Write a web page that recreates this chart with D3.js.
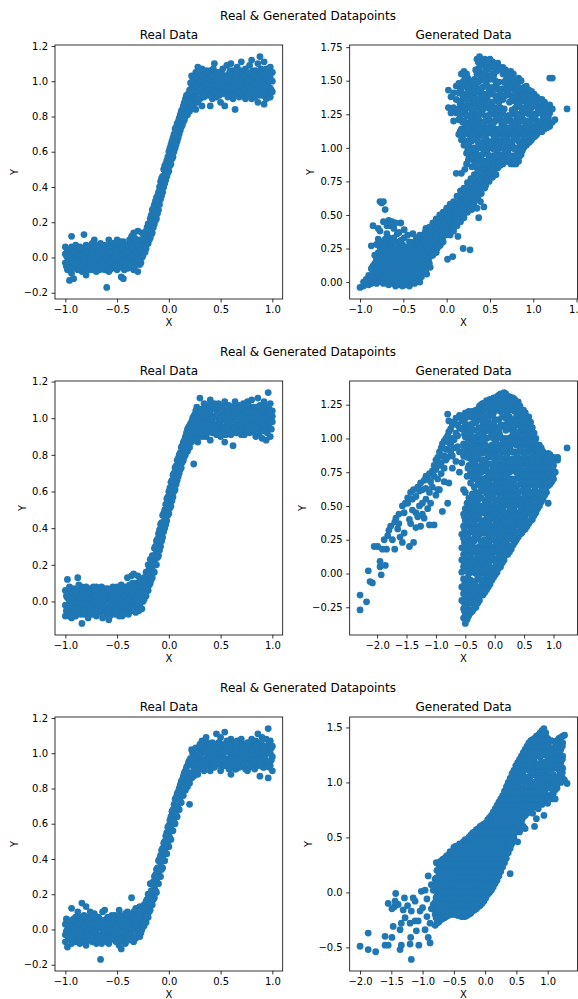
<!DOCTYPE html>
<html>
<head>
<meta charset="utf-8">
<script src="https://cdn.jsdelivr.net/npm/d3@7"></script>
<style>
  body { margin: 0; background: #fff; }
  text { font-family: "DejaVu Sans", sans-serif; }
</style>
</head>
<body>
<svg id="chart" width="578" height="999"></svg>
<script>
// each row: [x, y1, y2, ...]  (one x column at a time)

const real1 = [
  [-1.00,-0.03,0.02,0.06],[-0.98,-0.07,0.0,0.04],[-0.96,-0.13,-0.04,0.03],[-0.94,0.12,0.06,-0.01,-0.09],
  [-0.92,-0.12,0.03,-0.05],[-0.90,0.07,0.0,-0.03],[-0.88,0.04,-0.07,0.01],[-0.86,-0.02,0.06,-0.05],
  [-0.84,0.03,-0.08,0.0],[-0.82,0.13,0.05,-0.03],[-0.80,-0.1,0.02,-0.06,0.07],[-0.78,0.0,0.04,-0.04],
  [-0.76,0.06,-0.07,0.02],[-0.74,-0.03,0.03,0.08],[-0.72,0.1,-0.05,0.0],[-0.70,0.04,-0.02,-0.08],
  [-0.68,0.06,0.01,-0.04],[-0.66,-0.06,0.03,0.08],[-0.64,0.0,-0.03,0.05],[-0.62,0.07,-0.07,0.02],
  [-0.60,-0.17,-0.02,0.04,-0.05],[-0.58,0.1,0.0,-0.08],[-0.56,0.05,-0.04,0.02],[-0.54,-0.06,0.08,0.0],
  [-0.52,0.03,-0.03,0.06],[-0.50,0.1,-0.07,0.0],[-0.48,0.04,-0.02,0.07],[-0.46,-0.11,0.01,-0.05],
  [-0.44,0.09,-0.12,0.03],[-0.42,0.05,-0.03,0.0],[-0.40,0.07,-0.06,0.02],[-0.38,0.03,-0.02,0.1],
  [-0.36,0.12,-0.04,0.05],[-0.34,0.14,0.0,-0.07],[-0.32,0.08,0.03,-0.03],[-0.30,0.15,0.06,-0.08,0.0],
  [-0.28,0.1,0.02,-0.04],[-0.26,0.14,0.07,0.0],[-0.24,0.12,0.04,0.08],[-0.22,0.15,0.1,0.05],
  [-0.20,0.19,0.13,0.08],[-0.18,0.22,0.16,0.11],[-0.16,0.27,0.2,0.14],[-0.14,0.3,0.24,0.19],
  [-0.12,0.34,0.28,0.22],[-0.10,0.37,0.32,0.27],[-0.08,0.43,0.38,0.33],[-0.06,0.46,0.42,0.37],
  [-0.04,0.52,0.47,0.42],[-0.02,0.55,0.5,0.46],[0.00,0.6,0.54,0.49],[0.02,0.64,0.59,0.53],
  [0.04,0.68,0.63,0.57],[0.06,0.73,0.68,0.62],[0.08,0.76,0.71,0.66],[0.10,0.79,0.75,0.7],
  [0.12,0.83,0.78,0.74],[0.14,0.86,0.81,0.77],[0.16,0.9,0.84,0.8],[0.18,0.9,0.86,0.81],
  [0.20,0.95,0.88,0.83],[0.22,1.03,0.96,0.9,0.85],[0.24,0.99,0.93,0.87],[0.26,1.05,0.97,0.91,0.84],
  [0.28,1.08,1.0,0.94,0.88],[0.30,1.02,0.96,0.9],[0.32,1.07,0.99,0.93,0.86],[0.34,1.04,0.97,0.91],
  [0.36,1.0,0.95,1.06],[0.38,1.03,0.92,0.97],[0.40,1.06,0.99,0.94,0.86],[0.42,1.01,0.96,0.9],
  [0.44,1.1,1.04,0.98],[0.46,1.02,0.95,0.91],[0.48,1.05,0.99,0.93],[0.50,1.0,0.96,0.88],
  [0.52,1.07,1.02,0.94],[0.54,1.03,0.97,0.86],[0.56,1.09,1.0,0.93],[0.58,1.04,0.98,0.92],
  [0.60,1.1,1.01,0.95],[0.62,1.06,0.99,0.9],[0.64,1.03,0.96,0.84],[0.66,1.08,1.0,0.94],
  [0.68,1.05,0.97,0.91],[0.70,1.11,1.02,0.95],[0.72,1.04,0.98,0.92],[0.74,1.07,1.0,0.9],
  [0.76,1.03,0.96,0.93],[0.78,1.09,1.01,0.97],[0.80,1.12,1.05,0.99,0.9],[0.82,1.02,0.96,0.93],
  [0.84,1.06,1.0,0.94],[0.86,1.1,1.03,0.97,0.88],[0.88,1.14,1.04,0.98],[0.90,1.05,0.99,0.92],
  [0.92,1.11,1.01,0.95,0.87],[0.94,1.07,1.0,0.9],[0.96,1.04,0.97,0.93],[0.98,1.08,1.02,0.96,0.91],
  [1.00,1.05,1.0,0.94],
  [-0.99,0.01,-0.05],[-0.97,0.04,-0.02],[-0.95,-0.06,0.02],[-0.93,0.05,-0.02],[-0.91,-0.06,0.03],
  [-0.89,0.06,-0.03],[-0.87,0.02,-0.06],[-0.85,0.05,-0.03],[-0.83,-0.05,0.01],[-0.81,0.04,-0.02],
  [-0.79,-0.07,0.06],[-0.77,-0.02,0.03],[-0.75,0.05,-0.05],[-0.73,0.01,-0.07],[-0.71,0.07,-0.05],
  [-0.69,-0.01,0.03],[-0.67,0.05,-0.07],[-0.65,0.02,-0.05],[-0.63,-0.04,0.04],[-0.61,0.06,0.0],
  [-0.59,0.03,-0.04],[-0.57,-0.07,0.07],[-0.55,0.03,-0.02],[-0.53,0.0,0.08],[-0.51,-0.05,0.04],
  [-0.49,-0.06,0.01],[-0.47,0.05,0.09],[-0.45,-0.02,0.06],[-0.43,0.02,-0.07],[-0.41,0.04,-0.03],
  [-0.39,-0.06,0.07],[-0.37,0.01,0.08],[-0.35,-0.03,0.06],[-0.33,0.11,-0.05],[-0.31,0.03,0.1],
  [-0.29,0.07,-0.01],[-0.27,0.04,-0.03],[-0.25,0.01,0.1],[-0.23,0.03,0.12],
  [-0.21,0.08,0.17],[-0.19,0.1,0.16],[-0.17,0.13,0.24],[-0.15,0.17,0.28],[-0.13,0.21,0.32],
  [-0.11,0.25,0.35],[-0.09,0.3,0.4],[-0.07,0.35,0.45],[-0.05,0.4,0.5],[-0.03,0.44,0.53],
  [-0.01,0.48,0.57],[0.01,0.52,0.62],[0.03,0.56,0.66],[0.05,0.6,0.7],[0.07,0.64,0.74],
  [0.09,0.68,0.77],[0.11,0.72,0.81],[0.13,0.75,0.84],[0.15,0.78,0.88],[0.17,0.82,0.92],
  [0.19,0.84,0.93],[0.21,0.87,0.99],
  [0.23,0.93,1.0],[0.25,0.95,1.02],[0.27,0.9,0.98],[0.29,0.96,1.04],[0.31,0.94,1.0],[0.33,0.97,1.03],
  [0.35,0.93,1.01],[0.37,0.98,1.05],[0.39,0.95,1.01],[0.41,0.92,1.03],[0.43,0.97,1.07],[0.45,0.94,1.0],
  [0.47,0.98,1.05],[0.49,0.92,1.02],[0.51,0.97,1.04],[0.53,0.93,1.0],[0.55,0.96,1.03],[0.57,0.91,1.0],
  [0.59,0.96,1.06],[0.61,0.93,1.03],[0.63,0.92,1.0],[0.65,0.97,1.04],[0.67,0.94,1.01],[0.69,0.98,1.06],
  [0.71,0.93,1.0],[0.73,0.95,1.03],[0.75,0.99,1.05],[0.77,0.92,1.0],[0.79,0.94,1.04],[0.81,0.97,1.06],
  [0.83,0.91,0.99],[0.85,0.95,1.03],[0.87,0.92,1.01],[0.89,0.95,1.07],[0.91,0.98,1.03],[0.93,0.93,1.04],
  [0.95,0.96,1.02],[0.97,0.91,1.0],[0.99,0.95,1.05]
];

const gen1 = [
  [-1.0,-0.04],[-0.96,-0.03,0.0],[-0.93,-0.01,0.02],[-0.9,0.0,0.05,-0.02],[-0.87,0.03,0.1,0.27,-0.01],
  [-0.85,0.42,0.12,0.06,0.0],[-0.83,0.14,0.08,0.02,0.2],[-0.81,0.28,0.17,0.1,0.04,-0.01],
  [-0.79,0.4,0.32,0.22,0.13,0.06,0.01],[-0.77,0.6,0.38,0.26,0.18,0.1,0.03],[-0.75,0.59,0.3,0.15,0.08,0.0,0.22],
  [-0.73,0.6,0.45,0.24,0.19,0.12,0.05,-0.01],[-0.71,0.54,0.32,0.26,0.16,0.09,0.02],
  [-0.69,0.42,0.28,0.2,0.13,0.06,0.0,0.36],[-0.67,0.46,0.33,0.23,0.17,0.1,0.04,-0.02],
  [-0.65,0.42,0.26,0.2,0.14,0.08,0.02,0.3],[-0.63,0.45,0.27,0.22,0.16,0.11,0.05,-0.01],
  [-0.61,0.4,0.33,0.24,0.19,0.13,0.07,0.01],[-0.59,0.44,0.3,0.21,0.15,0.09,0.03,-0.03],
  [-0.57,0.36,0.25,0.18,0.12,0.06,0.0],[-0.55,0.37,0.28,0.22,0.16,0.1,0.04,-0.02],
  [-0.53,0.44,0.31,0.24,0.19,0.13,0.07,0.01],[-0.51,0.28,0.21,0.15,0.09,0.03,-0.03],
  [-0.49,0.39,0.33,0.25,0.18,0.12,0.06,0.0],[-0.47,0.26,0.2,0.14,0.08,0.02,-0.02],
  [-0.45,0.35,0.23,0.17,0.11,0.05,0.0],[-0.43,0.3,0.25,0.19,0.13,0.07,0.01,-0.03],
  [-0.41,0.22,0.16,0.1,0.04,0.0],[-0.39,0.36,0.27,0.2,0.14,0.08,0.02],[-0.37,0.3,0.24,0.18,0.12,0.06,-0.01],
  [-0.35,0.33,0.26,0.2,0.1,0.03],[-0.33,0.28,0.22,0.16,0.09,0.05],[-0.31,0.35,0.3,0.24,0.14,0.07,0.0],
  [-0.29,0.32,0.26,0.19,0.11,0.04],[-0.27,0.35,0.29,0.22,0.15,0.08],[-0.25,0.37,0.31,0.24,0.17,0.1],
  [-0.23,0.33,0.27,0.2,0.13,0.06],[-0.21,0.38,0.3,0.23,0.16],[-0.19,0.36,0.28,0.19,0.11],
  [-0.17,0.4,0.33,0.26,0.21],[-0.15,0.37,0.3,0.24],[-0.13,0.43,0.35,0.27],[-0.11,0.4,0.33,0.25],
  [-0.09,0.45,0.38,0.31],[-0.07,0.43,0.36,0.28],[-0.05,0.47,0.4,0.33],[-0.03,0.45,0.38],
  [-0.01,0.5,0.43,0.35],
  [0.01,0.48,0.41,0.17],[0.03,0.53,0.46,0.4],[0.05,0.51,0.44,0.38],[0.07,0.55,0.49,0.42,0.19],
  [0.09,0.53,0.47,0.41],[0.11,0.58,0.51,0.45,0.81],[0.13,0.56,0.5,0.34],[0.15,0.61,0.54,0.48],
  [0.17,0.59,0.52,0.81],[0.19,0.64,0.57,0.5,0.25],[0.21,0.62,0.55,0.84],[0.23,0.67,0.6,0.53,0.88],
  [0.25,0.65,0.58,0.91],[0.27,0.7,0.63,0.24],[0.29,0.68,0.61,0.54,0.86],[0.31,0.73,0.66,0.58],
  [0.33,0.71,0.64,0.86],[0.35,0.76,0.69,0.55],[0.37,0.74,0.67,0.48],[0.39,0.79,0.71,0.6],
  [0.41,0.77,0.7],[0.43,0.82,0.74,0.56],[0.45,0.8,0.72],[0.47,0.85,0.77],[0.49,0.83,0.75],
  [0.51,0.88,0.8],[0.53,0.86,0.78],[0.55,0.9,0.82],[0.57,0.87,0.8],[0.59,0.92,0.85],[0.61,0.89],
  [0.63,0.94,0.88],
  [-0.24,0.09,0.4],[-0.2,0.14,0.41],[-0.16,0.2,0.44],[-0.12,0.22,0.47],[-0.08,0.27,0.5],[-0.04,0.3,0.52],
  [0.0,0.36,0.55],[0.04,0.35,0.58],[0.08,0.38,0.6],[0.12,0.42,0.64],[0.16,0.45,0.68],[0.2,0.48,0.7],
  [0.24,0.52,0.74],[0.28,0.56,0.77],[0.32,0.6,0.8],[0.36,0.63,0.83],[0.4,0.66,0.86],[0.44,0.7,0.88],
  [0.02,1.3,1.43],[0.05,1.26,1.38],[0.08,1.2,1.3,1.41],[0.11,1.26,1.36,1.46],
  [0.14,1.1,1.21,1.29,1.41,1.48],[0.17,1.06,1.14,1.25,1.35,1.44,1.55],
  [0.20,1.02,1.1,1.2,1.31,1.4,1.5,1.57],[0.23,0.96,1.05,1.16,1.24,1.36,1.46,1.55],
  [0.26,0.94,1.01,1.1,1.19,1.3,1.4,1.49],[0.29,0.92,0.96,1.05,1.15,1.26,1.34,1.44],
  [0.32,0.9,1.0,1.11,1.2,1.29,1.4,1.51],[0.35,0.9,0.95,1.06,1.14,1.25,1.36,1.44,1.55,1.66],
  [0.38,0.9,1.0,1.09,1.2,1.3,1.41,1.5,1.6,1.68],[0.41,0.88,0.95,1.04,1.16,1.25,1.34,1.45,1.56,1.64],
  [0.44,0.9,1.01,1.1,1.19,1.3,1.4,1.5,1.61,1.66],[0.47,0.86,0.96,1.05,1.15,1.24,1.36,1.46,1.54,1.65],
  [0.50,0.9,1.0,1.11,1.2,1.29,1.4,1.51,1.6,1.66],[0.53,0.85,0.94,1.05,1.16,1.25,1.34,1.45,1.55,1.64],
  [0.56,0.9,1.01,1.1,1.2,1.3,1.39,1.5,1.59],[0.59,0.86,0.96,1.05,1.14,1.26,1.35,1.44,1.63],
  [0.62,0.87,1.0,1.1,1.21,1.3,1.4,1.6],[0.65,0.88,0.95,1.06,1.16,1.25,1.36,1.44,1.55,1.6],
  [0.68,0.9,1.01,1.09,1.2,1.39,1.5,1.58],[0.71,0.9,0.96,1.05,1.15,1.24,1.45,1.56],
  [0.74,0.88,1.0,1.1,1.2,1.39,1.49,1.57],[0.77,0.88,0.94,1.06,1.14,1.25,1.35,1.44,1.55],
  [0.80,0.88,1.0,1.1,1.2,1.3,1.41,1.5],[0.83,0.9,0.96,1.05,1.16,1.25,1.34,1.45,1.52],
  [0.86,0.95,1.01,1.1,1.2,1.3,1.4,1.5],[0.89,1.0,1.06,1.15,1.26,1.35,1.45],
  [0.92,1.02,1.1,1.2,1.31,1.4,1.46],[0.95,1.04,1.15,1.25,1.34,1.43],
  [0.98,1.06,1.1,1.21,1.3,1.42],[1.01,1.08,1.16,1.25,1.35,1.4],[1.04,1.1,1.2,1.31,1.38],
  [1.07,1.12,1.15,1.26,1.36],[1.10,1.12,1.2,1.3,1.36],[1.13,1.14,1.25,1.34],[1.16,1.15,1.21,1.3],
  [1.19,1.16,1.26,1.32,1.52],[1.22,1.19,1.29,1.52],[1.25,1.21],[1.39,1.29],
  [0.155,1.12,1.23,1.33,1.42],[0.215,1.03,1.12,1.18,1.28,1.38,1.47,1.53],
  [0.275,0.97,1.08,1.13,1.23,1.32,1.38,1.47],[0.335,0.92,0.98,1.08,1.17,1.22,1.33,1.42,1.48,1.58],
  [0.395,0.93,1.03,1.12,1.18,1.28,1.37,1.43,1.53,1.63],[0.455,0.88,0.98,1.07,1.13,1.23,1.32,1.38,1.48,1.57,1.63],
  [0.515,0.88,0.93,1.03,1.12,1.18,1.27,1.33,1.43,1.53,1.62],[0.575,0.88,0.98,1.07,1.13,1.22,1.28,1.37,1.48,1.57],
  [0.635,0.93,1.03,1.12,1.18,1.27,1.38,1.58],[0.695,0.92,0.98,1.07,1.13,1.22,1.42,1.48,1.53],
  [0.755,0.92,1.03,1.12,1.18,1.28,1.37,1.47,1.52],[0.815,0.92,0.98,1.07,1.13,1.23,1.32,1.38,1.47],
  [0.875,0.98,1.03,1.12,1.22,1.28,1.38,1.43],[0.935,1.07,1.13,1.18,1.27,1.38],
  [0.995,1.08,1.13,1.23,1.33,1.38],[1.055,1.13,1.18,1.28,1.33],[1.115,1.18,1.23,1.32],[1.175,1.18,1.23,1.28],
  [0.185,1.09,1.19,1.29,1.39,1.49],[0.245,0.99,1.04,1.14,1.24,1.34,1.44,1.52],
  [0.305,0.94,0.99,1.09,1.19,1.29,1.39,1.49],[0.365,0.92,1.04,1.14,1.24,1.34,1.49,1.59,1.64],
  [0.425,0.89,0.99,1.09,1.19,1.29,1.39,1.54,1.62],[0.485,0.88,0.94,1.04,1.14,1.24,1.34,1.44,1.59,1.64],
  [0.545,0.89,0.99,1.09,1.19,1.29,1.44,1.54,1.61],[0.605,0.89,0.94,1.04,1.14,1.24,1.34,1.49,1.59],
  [0.665,0.92,0.99,1.09,1.19,1.29,1.49,1.56],[0.725,0.91,0.94,1.04,1.14,1.24,1.34,1.44,1.54],
  [0.785,0.9,0.99,1.09,1.19,1.29,1.39,1.49],[0.845,0.94,1.04,1.14,1.24,1.34,1.44],
  [0.905,1.02,1.09,1.19,1.29,1.39,1.44],[0.965,1.05,1.09,1.19,1.29,1.39],
  [1.025,1.09,1.14,1.24,1.34],[1.085,1.13,1.19,1.29,1.34],[1.145,1.15,1.19,1.29]
];

const real2 = [
  [-1.00,0.06,-0.02,-0.08],[-0.98,0.12,0.02,-0.05],[-0.96,-0.08,0.08,0.0],[-0.94,0.04,-0.04,-0.09],
  [-0.92,0.07,-0.01,-0.06],[-0.90,0.02,-0.08,0.05],[-0.88,0.13,-0.03,0.01],[-0.86,0.06,-0.06,-0.01],
  [-0.84,-0.12,0.03,-0.04,0.08],[-0.82,0.0,-0.07,0.05],[-0.80,0.04,-0.03,0.08],[-0.78,-0.06,0.02,-0.09],
  [-0.76,0.07,0.0,-0.04],[-0.74,0.03,-0.07,0.06],[-0.72,-0.02,0.05,-0.05],[-0.70,0.08,0.01,-0.08],
  [-0.68,-0.03,0.04,0.0],[-0.66,0.06,-0.06,0.02],[-0.64,-0.09,0.03,-0.01],[-0.62,0.07,0.0,-0.05],
  [-0.60,0.02,-0.07,0.05],[-0.58,-0.1,0.04,-0.03],[-0.56,0.06,-0.01,-0.06],[-0.54,0.02,0.08,-0.04],
  [-0.52,-0.07,0.05,0.0],[-0.50,0.08,-0.03,0.03],[-0.48,-0.08,0.01,0.06],[-0.46,0.04,-0.05,0.09],
  [-0.44,-0.02,0.06,-0.07],[-0.42,0.08,0.0,-0.04],[-0.40,0.13,0.03,-0.06],[-0.38,0.05,-0.02,0.09],
  [-0.36,0.14,0.02,-0.05],[-0.34,0.15,0.07,-0.01],[-0.32,0.1,0.04,-0.06],[-0.30,0.14,0.02,-0.03],
  [-0.28,0.08,0.12,-0.02],[-0.26,0.1,0.04,-0.04],[-0.24,0.13,0.06,0.01],[-0.22,0.16,0.09,0.03],
  [-0.20,0.2,0.12,0.06],[-0.18,0.23,0.16,0.1],[-0.16,0.25,0.19,0.13],[-0.14,0.29,0.22,0.16],
  [-0.12,0.33,0.27,0.2],[-0.10,0.37,0.31,0.25],[-0.08,0.42,0.36,0.3],[-0.06,0.47,0.4,0.35],
  [-0.04,0.5,0.45,0.4],[-0.02,0.56,0.5,0.44],[0.00,0.6,0.54,0.48],[0.02,0.65,0.58,0.52],
  [0.04,0.69,0.63,0.57],[0.06,0.73,0.67,0.61],[0.08,0.77,0.71,0.66],[0.10,0.8,0.75,0.7],
  [0.12,0.84,0.79,0.73],[0.14,0.87,0.82,0.77],[0.16,0.9,0.85,0.8],[0.18,0.94,0.88,0.82],
  [0.20,0.96,0.9,0.84],[0.22,0.98,0.93,0.87],[0.24,1.01,0.95,0.89,0.75],[0.26,1.04,0.97,0.91],
  [0.28,0.99,0.94,0.87],[0.30,1.11,1.02,0.96,0.9],[0.32,1.05,0.98,0.92],[0.34,1.0,0.95,1.08],
  [0.36,1.03,0.97,0.9],[0.38,1.07,1.0,0.94],[0.40,1.1,1.02,0.96,0.88],[0.42,1.05,0.98,0.92],
  [0.44,1.01,0.95,1.08],[0.46,1.04,0.97,0.91],[0.48,1.08,1.0,0.94],[0.50,1.02,0.96,0.9],
  [0.52,1.06,0.99,0.93],[0.54,1.09,1.01,0.87],[0.56,1.04,0.97,0.92],[0.58,1.07,1.0,0.95],
  [0.60,1.02,0.96,0.91],[0.62,1.06,0.99,0.85],[0.64,1.09,1.02,0.94],[0.66,1.04,0.97,0.92],
  [0.68,1.07,1.0,0.95],[0.70,1.03,0.98,0.91],[0.72,1.08,1.01,0.94],[0.74,1.05,0.99,0.93],
  [0.76,1.09,1.02,0.96],[0.78,1.04,0.98,0.92],[0.80,1.1,1.01,0.95],[0.82,1.06,0.99,0.93],
  [0.84,1.03,0.97,0.9],[0.86,1.11,1.04,0.98],[0.88,1.07,1.0,0.94],[0.90,1.02,0.96,0.89],
  [0.92,1.09,1.03,0.97],[0.94,1.05,0.99,0.88],[0.96,1.14,1.02,0.95],[0.98,1.08,1.0,0.9],
  [1.00,1.04,0.98,1.01],
  [-0.99,0.03,-0.05],[-0.97,-0.02,0.05],[-0.95,0.01,-0.07],[-0.93,0.04,-0.02],[-0.91,-0.04,0.06],
  [-0.89,0.04,-0.06],[-0.87,-0.01,0.09],[-0.85,0.02,-0.07],[-0.83,0.06,-0.02],[-0.81,-0.05,0.02],
  [-0.79,0.05,-0.01],[-0.77,-0.03,0.04],[-0.75,0.02,-0.06],[-0.73,0.0,0.08],[-0.71,0.03,-0.07],
  [-0.69,-0.05,0.06],[-0.67,0.02,-0.02],[-0.65,-0.04,0.08],[-0.63,0.05,0.01],[-0.61,-0.03,0.03],
  [-0.59,0.07,-0.05],[-0.57,0.01,-0.08],[-0.55,0.04,-0.03],[-0.53,-0.01,0.06],[-0.51,0.02,-0.05],
  [-0.49,0.07,-0.03],[-0.47,-0.02,0.02],[-0.45,0.07,-0.08],[-0.43,0.03,-0.03],[-0.41,0.06,-0.01],
  [-0.39,0.01,-0.07],[-0.37,0.07,-0.03],[-0.35,0.1,0.0],[-0.33,0.05,-0.03],[-0.31,0.08,0.0],
  [-0.29,0.05,-0.05],[-0.27,0.03,0.09],[-0.25,0.0,0.08],[-0.23,0.04,0.11],
  [-0.21,0.07,0.15],[-0.19,0.09,0.18],[-0.17,0.12,0.21],[-0.15,0.16,0.25],[-0.13,0.2,0.3],
  [-0.11,0.24,0.34],[-0.09,0.28,0.39],[-0.07,0.33,0.43],[-0.05,0.38,0.48],[-0.03,0.42,0.53],
  [-0.01,0.47,0.57],[0.01,0.51,0.62],[0.03,0.55,0.66],[0.05,0.6,0.7],[0.07,0.64,0.74],
  [0.09,0.68,0.78],[0.11,0.72,0.81],[0.13,0.76,0.85],[0.15,0.79,0.88],[0.17,0.82,0.92],
  [0.19,0.85,0.95],[0.21,0.88,0.97],
  [0.23,0.91,1.0],[0.25,0.93,1.02],[0.27,0.96,1.06],[0.29,0.92,1.0],[0.31,0.95,1.04],[0.33,0.9,1.01],
  [0.35,0.94,1.05],[0.37,0.92,1.02],[0.39,0.97,1.04],[0.41,0.93,1.0],[0.43,0.96,1.06],[0.45,0.92,1.01],
  [0.47,0.95,1.03],[0.49,0.98,1.06],[0.51,0.93,1.0],[0.53,0.95,1.04],[0.55,0.91,1.01],[0.57,0.94,1.03],
  [0.59,0.97,1.05],[0.61,0.93,1.0],[0.63,0.95,1.04],[0.65,0.92,1.01],[0.67,0.97,1.05],[0.69,0.93,1.01],
  [0.71,0.96,1.06],[0.73,0.91,1.0],[0.75,0.94,1.04],[0.77,0.97,1.07],[0.79,0.93,1.0],[0.81,0.96,1.03],
  [0.83,0.92,1.0],[0.85,0.95,1.06],[0.87,0.91,1.02],[0.89,0.97,1.04],[0.91,0.93,1.0],[0.93,0.96,1.06],
  [0.95,0.92,1.01],[0.97,0.97,1.05],[0.99,0.94,1.02]
];

const gen2 = [
  [-2.29,-0.27,-0.16],[-2.18,-0.21],[-2.15,0.02],[-2.12,-0.06],[-2.08,-0.07],[-2.05,0.2],[-1.99,0.2],
  [-1.95,0.09,0.05],[-1.93,-0.01],[-1.91,0.18],[-1.88,0.25],[-1.86,0.06],[-1.84,0.18],[-1.82,0.28],
  [-1.8,0.32],[-1.77,0.35],[-1.74,0.25],[-1.7,0.18,0.38],[-1.68,0.41],[-1.65,0.33],[-1.63,0.37,0.44],
  [-1.61,0.27],[-1.57,0.23,0.5],[-1.54,0.3,0.45],[-1.52,0.52],[-1.48,0.52,0.56],[-1.45,0.2,0.4],
  [-1.43,0.37,0.6],[-1.4,0.47,0.55],[-1.38,0.23,0.62],[-1.34,0.57,0.45,0.34],[-1.31,0.42,0.64],
  [-1.28,0.61,0.5],[-1.26,0.35,0.67],[-1.23,0.52,0.62,0.44],[-1.2,0.41,0.69],[-1.17,0.63,0.72,0.55],
  [-1.14,0.7,0.48],[-1.11,0.36,0.74,0.6],[-1.09,0.52,0.68],[-1.06,0.76,0.64],[-1.03,0.36,0.72,0.8],
  [-1.0,0.77,0.58,0.84],[-0.97,0.7,0.86,0.62],[-0.94,0.62,0.8,0.9],[-0.91,0.82,0.74,0.93],
  [-0.89,0.46,0.87,0.96],[-0.86,0.87,0.78,0.98,0.68],[-0.83,0.92,1.0,0.84],[-0.8,0.52,0.92,1.18,1.02,0.86],
  [-0.78,1.13,0.67,0.97,1.05],[-0.75,0.96,1.07,0.9],[-0.72,0.78,0.87,1.0,1.1],[-0.69,0.99,1.12,0.93],
  [-0.66,1.04,1.15,0.83],[-0.63,1.02,1.1,0.94],[-0.6,1.08,1.17,0.9,0.75],
  [-0.56,-0.2,-0.1,0.01,0.1,0.19,0.29,0.82,1.07,1.13],
  [-0.53,-0.33,-0.26,-0.15,-0.04,0.05,0.14,0.26,0.35,0.44,0.62,0.87,0.96,1.17],
  [-0.50,-0.37,-0.3,-0.19,-0.1,0.02,0.1,0.21,0.3,0.39,0.48,0.6,0.91,1.01,1.1,1.19],
  [-0.47,-0.34,-0.24,-0.16,-0.06,0.04,0.16,0.24,0.36,0.45,0.52,0.72,0.86,0.95,1.06,1.16],
  [-0.44,-0.31,-0.21,-0.1,0.0,0.11,0.2,0.3,0.41,0.49,0.56,0.8,0.91,1.0,1.1,1.2],
  [-0.41,-0.29,-0.16,-0.05,0.06,0.14,0.25,0.34,0.45,0.54,0.67,0.75,0.85,0.96,1.04,1.16],
  [-0.38,-0.28,-0.2,-0.09,0.01,0.1,0.2,0.31,0.4,0.49,0.59,0.71,0.81,0.89,1.0,1.11,1.2],
  [-0.35,-0.26,-0.14,-0.06,0.05,0.16,0.24,0.36,0.44,0.55,0.64,0.76,0.85,0.95,1.06,1.15],
  [-0.32,-0.25,-0.19,-0.1,0.0,0.11,0.19,0.3,0.4,0.51,0.6,0.7,0.8,0.91,1.01,1.12,1.21],
  [-0.29,-0.22,-0.15,-0.04,0.06,0.14,0.26,0.35,0.45,0.54,0.66,0.74,0.86,0.95,1.16],
  [-0.26,-0.2,-0.1,0.01,0.09,0.2,0.29,0.4,0.5,0.6,0.69,0.79,0.9,1.0,1.2,1.24],
  [-0.23,-0.16,-0.05,0.04,0.15,0.24,0.34,0.45,0.56,0.64,0.75,0.84,0.94,1.06,1.15,1.25],
  [-0.20,-0.16,-0.09,0.0,0.11,0.21,0.3,0.39,0.5,0.61,0.7,0.8,0.89,1.01,1.1,1.2,1.26],
  [-0.17,-0.14,-0.05,0.06,0.14,0.25,0.36,0.45,0.54,0.65,0.76,0.84,0.96,1.05,1.16,1.25],
  [-0.14,-0.12,-0.01,0.1,0.19,0.3,0.41,0.5,0.59,0.71,0.8,0.91,1.0,1.22,1.28],
  [-0.11,-0.1,-0.04,0.05,0.16,0.24,0.35,0.46,0.55,0.64,0.75,0.86,0.94,1.06,1.15,1.26],
  [-0.08,-0.08,0.01,0.1,0.2,0.31,0.4,0.5,0.61,0.7,0.81,0.9,1.01,1.09,1.2,1.29],
  [-0.05,-0.05,0.04,0.15,0.26,0.35,0.44,0.56,0.65,0.74,0.86,0.95,1.04,1.24,1.29],
  [-0.02,-0.03,0.1,0.19,0.3,0.41,0.5,0.6,0.71,0.79,0.9,1.0,1.11,1.19,1.3],
  [0.01,-0.01,0.05,0.16,0.24,0.35,0.45,0.54,0.66,0.75,0.84,0.96,1.05,1.14,1.25],
  [0.04,0.01,0.11,0.2,0.29,0.4,0.51,0.6,0.69,0.8,0.9,1.0,1.21,1.31],
  [0.07,0.04,0.15,0.25,0.36,0.44,0.55,0.65,0.74,0.86,0.95,1.05,1.14,1.24,1.32],
  [0.10,0.05,0.1,0.21,0.3,0.39,0.5,0.61,0.7,0.81,0.9,1.01,1.1,1.2,1.29,1.33],
  [0.13,0.08,0.16,0.26,0.34,0.45,0.56,0.64,0.75,0.85,0.94,1.16,1.25,1.33],
  [0.16,0.1,0.19,0.3,0.41,0.5,0.6,0.71,0.8,0.9,1.0,1.1,1.21,1.3,1.34],
  [0.19,0.14,0.25,0.35,0.44,0.55,0.64,0.76,0.85,0.95,1.06,1.15,1.26,1.33],
  [0.22,0.14,0.2,0.31,0.4,0.51,0.6,0.69,0.81,0.9,1.0,1.11,1.2,1.3],
  [0.25,0.16,0.26,0.35,0.46,0.54,0.66,0.75,0.84,0.96,1.16,1.25,1.31],
  [0.28,0.18,0.29,0.4,0.5,0.61,0.7,0.79,0.9,1.01,1.1,1.21,1.3],
  [0.31,0.21,0.25,0.36,0.45,0.55,0.65,0.76,0.85,0.96,1.04,1.14,1.25,1.3],
  [0.34,0.23,0.3,0.41,0.5,0.6,0.7,0.81,0.9,1.0,1.1,1.2,1.29],
  [0.37,0.25,0.36,0.45,0.56,0.64,0.75,0.86,0.95,1.16,1.26],
  [0.40,0.27,0.31,0.4,0.51,0.6,0.71,0.8,0.9,1.0,1.1,1.19,1.27],
  [0.43,0.29,0.35,0.45,0.55,0.66,0.75,0.85,0.94,1.05,1.15,1.24],
  [0.46,0.3,0.4,0.5,0.61,0.7,0.8,0.91,1.0,1.1,1.21],
  [0.49,0.32,0.46,0.54,0.65,0.76,0.84,0.95,1.06,1.15,1.21],
  [0.52,0.33,0.41,0.5,0.6,0.71,0.81,0.9,1.0,1.09,1.19],
  [0.55,0.35,0.45,0.56,0.64,0.75,0.85,0.96,1.05,1.15],
  [0.58,0.37,0.5,0.6,0.7,0.8,0.9,1.01,1.1,1.16],
  [0.61,0.39,0.46,0.55,0.66,0.74,0.85,0.95,1.04,1.12],
  [0.64,0.4,0.5,0.6,0.71,0.8,0.91,1.0,1.08],
  [0.67,0.43,0.56,0.65,0.76,0.84,0.94,1.04],
  [0.70,0.45,0.51,0.6,0.7,0.8,0.9,1.0],
  [0.73,0.48,0.55,0.66,0.75,0.86,0.95],
  [0.76,0.5,0.6,0.69,0.8,0.9,0.95],
  [0.79,0.53,0.65,0.76,0.84,0.93],
  [0.82,0.55,0.61,0.7,0.8,0.9],
  [0.85,0.58,0.66,0.75,0.85],
  [0.88,0.6,0.71,0.8,0.88],
  [0.91,0.52,0.65,0.76,0.84,0.89],
  [0.94,0.66,0.7,0.8,0.88],
  [0.97,0.68,0.75,0.85],
  [1.00,0.7,0.8,0.86],
  [1.03,0.75,0.84],[1.07,0.84,0.86],[1.23,0.93],
  [-0.515,-0.28,-0.22,-0.12,-0.08,0.03,0.07,0.18,0.23,0.33,0.42,0.93,1.03,1.13],
  [-0.455,-0.32,-0.28,-0.17,-0.12,-0.03,0.07,0.13,0.22,0.28,0.38,0.43,0.52,0.78,0.88,0.97,1.08,1.17],
  [-0.395,-0.27,-0.22,-0.13,-0.08,0.03,0.08,0.17,0.23,0.32,0.38,0.47,0.53,0.73,0.78,0.88,0.93,1.08,1.17],
  [-0.335,-0.23,-0.17,-0.07,0.02,0.08,0.18,0.27,0.33,0.43,0.48,0.73,0.83,0.88,0.97,1.12,1.18],
  [-0.275,-0.18,-0.12,-0.03,0.03,0.12,0.18,0.28,0.32,0.42,0.48,0.57,0.72,0.78,0.88,0.92,1.03,1.08,1.18,1.22],
  [-0.215,-0.13,-0.07,0.02,0.08,0.17,0.23,0.32,0.37,0.48,0.68,0.77,0.83,0.93,0.98,1.08,1.13,1.22],
  [-0.155,-0.12,-0.08,0.03,0.07,0.17,0.22,0.33,0.38,0.48,0.52,0.63,0.68,0.78,0.82,1.08,1.12,1.23],
  [-0.095,-0.07,-0.02,0.08,0.13,0.23,0.28,0.38,0.42,0.53,0.58,0.68,0.72,0.88,1.12,1.18,1.27],
  [-0.035,-0.02,0.02,0.12,0.18,0.28,0.32,0.43,0.47,0.57,0.63,0.73,0.78,0.87,0.93,1.03,1.07,1.17,1.22,1.27],
  [0.025,0.03,0.08,0.17,0.22,0.32,0.38,0.47,0.52,0.62,0.68,0.77,0.82,0.93,0.97,1.08,1.23,1.28],
  [0.085,0.07,0.13,0.18,0.28,0.33,0.42,0.48,0.57,0.62,0.72,0.78,0.87,0.92,1.03,1.08,1.22,1.28],
  [0.145,0.12,0.17,0.23,0.32,0.37,0.47,0.53,0.62,0.67,0.77,0.83,0.92,0.98,1.22,1.28,1.32],
  [0.205,0.17,0.22,0.28,0.37,0.43,0.57,0.63,0.72,0.78,0.87,0.93,1.17,1.23,1.28],
  [0.265,0.2,0.27,0.32,0.42,0.48,0.57,0.63,0.68,0.78,0.82,0.92,0.98,1.07,1.13,1.22,1.27],
  [0.325,0.25,0.32,0.38,0.47,0.53,0.62,0.68,0.78,0.83,1.07,1.13,1.22,1.27],
  [0.385,0.3,0.37,0.43,0.52,0.58,0.82,0.88,0.97,1.03,1.12,1.18,1.23],
  [0.445,0.33,0.38,0.48,0.52,0.68,0.78,0.83,0.92,0.98,1.07,1.13,1.2],
  [0.505,0.37,0.43,0.53,0.57,0.67,0.73,0.82,0.88,0.97,1.03,1.12,1.17],
  [0.565,0.48,0.53,0.62,0.68,0.77,0.83,0.92,0.98,1.07,1.13],
  [0.625,0.43,0.53,0.58,0.68,0.72,0.82,0.88,0.97,1.03,1.08],
  [0.685,0.48,0.57,0.63,0.72,0.78,0.87,0.93,0.98],
  [0.745,0.53,0.58,0.67,0.72,0.83,0.88,0.93],
  [0.805,0.57,0.63,0.73,0.78,0.87,0.91],
  [0.865,0.62,0.68,0.78,0.83,0.87],
  [0.925,0.68,0.73,0.83,0.87],
  [0.985,0.72,0.78,0.83]
];

const real3 = [
  [-1.00,0.03,-0.03,-0.07],[-0.98,-0.1,0.0,0.05],[-0.96,0.04,-0.05,-0.01],[-0.94,0.12,-0.08,0.02],
  [-0.92,0.06,-0.03,0.0],[-0.90,-0.07,0.03,0.07],[-0.88,0.01,-0.05,0.1],[-0.86,0.05,-0.02,-0.08],
  [-0.84,0.15,0.02,-0.06],[-0.82,0.08,-0.01,-0.04],[-0.80,0.13,0.04,-0.09],[-0.78,0.0,-0.05,0.07],
  [-0.76,0.1,0.03,-0.02],[-0.74,-0.07,0.06,0.0],[-0.72,0.02,-0.04,0.09],[-0.70,0.05,-0.08,0.0],
  [-0.68,-0.03,0.07,0.01],[-0.66,-0.17,0.03,-0.06],[-0.64,0.1,0.0,-0.04],[-0.62,0.11,-0.02,0.05],
  [-0.60,-0.07,0.02,0.06],[-0.58,0.04,-0.03,-0.08],[-0.56,0.0,0.07,-0.05],[-0.54,0.05,-0.02,0.02],
  [-0.52,-0.06,0.03,0.08],[-0.50,0.06,-0.04,0.0],[-0.48,0.11,0.01,-0.09],[-0.46,-0.11,0.04,-0.03],
  [-0.44,0.07,-0.06,0.01],[-0.42,0.02,-0.08,0.09],[-0.40,0.1,-0.02,0.04],[-0.38,-0.06,0.05,0.0],
  [-0.36,0.18,0.08,-0.03],[-0.34,0.03,0.1,-0.07],[-0.32,0.12,0.0,-0.05],[-0.30,0.06,0.09,-0.02],
  [-0.28,0.13,0.03,-0.04],[-0.26,0.1,0.05,0.0],[-0.24,0.14,0.07,0.02],[-0.22,0.16,0.1,0.04],
  [-0.20,0.2,0.13,0.07],[-0.18,0.26,0.17,0.11],[-0.16,0.26,0.2,0.14],[-0.14,0.3,0.24,0.18],
  [-0.12,0.34,0.28,0.21],[-0.10,0.39,0.32,0.26],[-0.08,0.42,0.36,0.3],[-0.06,0.46,0.41,0.35],
  [-0.04,0.5,0.45,0.39],[-0.02,0.55,0.49,0.43],[0.00,0.59,0.53,0.47],[0.02,0.64,0.57,0.51],
  [0.04,0.68,0.62,0.56],[0.06,0.74,0.66,0.6],[0.08,0.77,0.7,0.64],[0.10,0.8,0.74,0.68],
  [0.12,0.84,0.78,0.72],[0.14,0.87,0.81,0.76],[0.16,0.9,0.84,0.79],[0.18,0.93,0.87,0.81],
  [0.20,0.96,0.89,0.83,0.71],[0.22,1.02,0.94,0.86],[0.24,0.98,0.92,0.87],[0.26,1.03,0.96,0.9],
  [0.28,1.0,0.94,0.88],[0.30,1.05,0.97,0.92],[0.32,1.07,1.0,0.94],[0.34,1.02,0.96,0.9],
  [0.36,1.09,1.03,0.97],[0.38,1.05,0.99,0.93],[0.40,1.01,0.95,0.9],[0.42,1.06,1.0,0.94],
  [0.44,1.03,0.97,0.92],[0.46,1.11,1.04,0.98],[0.48,1.06,1.0,0.95],[0.50,1.09,1.02,0.9],
  [0.52,1.04,0.98,0.93],[0.54,1.12,1.05,0.97],[0.56,1.07,1.01,0.95],[0.58,1.03,0.97,0.91],
  [0.60,1.08,1.0,0.88],[0.62,1.05,0.98,0.93],[0.64,1.02,0.96,0.91],[0.66,1.07,1.0,0.94],
  [0.68,1.04,0.98,0.92],[0.70,1.08,1.01,0.95],[0.72,1.05,0.99,0.93],[0.74,1.02,0.96,0.91],
  [0.76,1.06,0.99,0.9],[0.78,1.03,0.97,0.92],[0.80,1.08,1.01,0.95],[0.82,1.04,0.98,0.93],
  [0.84,1.07,1.0,0.94],[0.86,1.11,1.03,0.97],[0.88,1.05,0.99,0.87],[0.90,1.09,1.02,0.96],
  [0.92,1.04,0.98,0.92],[0.94,1.08,1.0,0.94],[0.96,1.14,1.03,0.86],[0.98,1.07,1.0,0.93],
  [1.00,1.04,0.98,0.9],
  [-0.99,-0.01,0.06],[-0.97,0.02,-0.05],[-0.95,-0.03,0.05],[-0.93,0.03,-0.06],[-0.91,0.01,-0.04],
  [-0.89,0.05,-0.02],[-0.87,-0.04,0.03],[-0.85,0.07,0.0],[-0.83,-0.03,0.05],[-0.81,0.02,-0.07],
  [-0.79,0.06,-0.02],[-0.77,-0.06,0.04],[-0.75,0.06,-0.03],[-0.73,0.03,-0.05],[-0.71,-0.02,0.07],
  [-0.69,0.04,-0.05],[-0.67,0.06,-0.03],[-0.65,0.01,-0.08],[-0.63,0.05,-0.02],[-0.61,-0.05,0.02],
  [-0.59,0.07,0.0],[-0.57,0.03,-0.06],[-0.55,-0.01,0.08],[-0.53,0.05,-0.04],[-0.51,0.02,-0.07],
  [-0.49,0.05,-0.02],[-0.47,-0.06,0.08],[-0.45,0.01,-0.05],[-0.43,0.04,-0.02],[-0.41,-0.04,0.06],
  [-0.39,0.02,0.08],[-0.37,-0.02,0.04],[-0.35,0.06,-0.05],[-0.33,0.02,0.07],[-0.31,-0.04,0.03],
  [-0.29,0.09,0.0],[-0.27,0.06,-0.02],[-0.25,0.03,0.11],[-0.23,0.05,0.12],
  [-0.21,0.08,0.17],[-0.19,0.1,0.19],[-0.17,0.14,0.22],[-0.15,0.17,0.27],[-0.13,0.22,0.31],
  [-0.11,0.26,0.35],[-0.09,0.3,0.4],[-0.07,0.34,0.45],[-0.05,0.39,0.49],[-0.03,0.43,0.53],
  [-0.01,0.48,0.58],[0.01,0.52,0.62],[0.03,0.56,0.67],[0.05,0.61,0.71],[0.07,0.65,0.75],
  [0.09,0.69,0.78],[0.11,0.73,0.82],[0.13,0.76,0.85],[0.15,0.8,0.89],[0.17,0.83,0.92],
  [0.19,0.85,0.95],[0.21,0.88,0.97],
  [0.23,0.93,1.0],[0.25,0.9,0.98],[0.27,0.94,1.02],[0.29,0.91,0.99],[0.31,0.95,1.03],[0.33,0.92,1.04],
  [0.35,0.96,1.01],[0.37,0.93,1.06],[0.39,0.97,1.02],[0.41,0.92,1.0],[0.43,0.95,1.05],[0.45,0.93,1.01],
  [0.47,0.97,1.03],[0.49,0.94,1.06],[0.51,0.92,1.0],[0.53,0.96,1.04],[0.55,0.93,1.01],[0.57,0.95,1.06],
  [0.59,0.93,1.03],[0.61,0.96,1.01],[0.63,0.94,1.05],[0.65,0.91,1.02],[0.67,0.96,1.04],[0.69,0.93,1.0],
  [0.71,0.97,1.05],[0.73,0.94,1.02],[0.75,0.92,1.0],[0.77,0.96,1.04],[0.79,0.93,1.06],[0.81,0.95,1.02],
  [0.83,0.91,1.0],[0.85,0.96,1.04],[0.87,0.93,1.01],[0.89,0.95,1.06],[0.91,0.92,1.02],[0.93,0.97,1.04],
  [0.95,0.94,1.0],[0.97,0.92,1.06],[0.99,0.96,1.03]
];

const gen3 = [
  [-2.0,-0.49],[-1.87,-0.37,-0.52],[-1.75,-0.54],[-1.6,-0.4,-0.48],[-1.55,-0.48,-0.1],[-1.49,-0.41,-0.15],
  [-1.47,-0.31],[-1.45,-0.13],[-1.44,-0.08],[-1.43,-0.01],[-1.39,-0.11],[-1.36,-0.34,-0.52],
  [-1.34,-0.28,-0.48],[-1.31,-0.16],[-1.29,-0.05],[-1.28,-0.23],[-1.24,-0.12],[-1.2,-0.47,-0.28],
  [-1.19,-0.41],[-1.18,-0.61,-0.17],[-1.15,-0.05],[-1.12,-0.08,-0.26],[-1.1,-0.35],[-1.07,-0.26],
  [-1.06,-0.48],[-1.04,-0.17],[-1.02,0.01],[-1.0,-0.14],[-0.96,-0.34,0.02],[-0.93,-0.22,-0.06],
  [-0.91,-0.41,0.15],[-0.88,-0.46,-0.28],[-0.86,0.07,-0.15],[-0.83,-0.11,0.02],[-0.78,0.27],[-0.72,0.28],
  [-0.80,-0.3,-0.2,-0.09,0.05,0.12],
  [-0.77,-0.28,-0.14,-0.03,0.1,0.2],
  [-0.74,-0.27,-0.19,-0.07,0.03,0.15,0.25],
  [-0.71,-0.25,-0.13,-0.01,0.11,0.22,0.28],
  [-0.68,-0.24,-0.2,-0.08,0.05,0.16,0.3],
  [-0.65,-0.23,-0.15,-0.02,0.09,0.22,0.31],
  [-0.62,-0.22,-0.09,0.04,0.17,0.27,0.33],
  [-0.59,-0.21,-0.13,-0.03,0.1,0.23,0.34],
  [-0.56,-0.2,-0.07,0.05,0.15,0.28,0.37],
  [-0.53,-0.2,-0.14,-0.01,0.11,0.21,0.35],
  [-0.50,-0.2,-0.08,0.03,0.16,0.29,0.41],
  [-0.47,-0.2,-0.13,-0.02,0.1,0.23,0.34,0.42],
  [-0.44,-0.21,-0.08,0.05,0.17,0.27,0.4],
  [-0.41,-0.21,-0.14,-0.03,0.11,0.22,0.35,0.44],
  [-0.38,-0.22,-0.09,0.04,0.15,0.28,0.41],
  [-0.35,-0.22,-0.13,-0.01,0.09,0.23,0.34,0.46],
  [-0.32,-0.22,-0.08,0.05,0.17,0.27,0.4,0.48],
  [-0.29,-0.21,-0.14,-0.02,0.1,0.21,0.35,0.47],
  [-0.26,-0.2,-0.07,0.03,0.16,0.29,0.39,0.5],
  [-0.23,-0.19,-0.13,-0.01,0.11,0.22,0.33,0.46,0.52],
  [-0.20,-0.17,-0.08,0.05,0.15,0.28,0.41,0.54],
  [-0.17,-0.16,-0.02,0.1,0.23,0.35,0.46,0.55],
  [-0.14,-0.15,-0.07,0.04,0.17,0.29,0.4,0.52,0.57],
  [-0.11,-0.13,-0.01,0.1,0.21,0.34,0.47,0.58],
  [-0.08,-0.12,-0.08,0.05,0.16,0.27,0.4,0.51,0.6],
  [-0.05,-0.1,-0.02,0.11,0.22,0.35,0.45,0.57,0.61],
  [-0.02,-0.08,0.03,0.15,0.29,0.4,0.53,0.62],
  [0.01,-0.05,0.1,0.21,0.33,0.47,0.58,0.63],
  [0.04,-0.02,0.04,0.17,0.28,0.41,0.52,0.66],
  [0.07,0.0,0.1,0.23,0.34,0.45,0.57,0.68],
  [0.10,0.02,0.15,0.28,0.39,0.53,0.64,0.7],
  [0.13,0.05,0.11,0.22,0.35,0.46,0.58,0.69,0.73],
  [0.16,0.08,0.17,0.29,0.4,0.52,0.65,0.76],
  [0.19,0.11,0.22,0.33,0.47,0.58,0.7,0.79],
  [0.22,0.15,0.28,0.41,0.51,0.64,0.75,0.82],
  [0.25,0.19,0.23,0.34,0.46,0.57,0.7,0.82,0.85],
  [0.28,0.23,0.29,0.39,0.52,0.65,0.77,0.88],
  [0.31,0.27,0.35,0.46,0.59,0.7,0.81,0.92],
  [0.34,0.31,0.4,0.53,0.63,0.76,0.89,0.96],
  [0.37,0.36,0.47,0.58,0.71,0.82,0.93,1.0],
  [0.40,0.17,0.4,0.51,0.65,0.77,0.88,1.0,1.04],
  [0.43,0.45,0.58,0.7,0.83,0.94,1.08],
  [0.46,0.5,0.53,0.64,0.77,0.88,1.01,1.11],
  [0.49,0.55,0.59,0.71,0.81,0.95,1.06,1.15],
  [0.52,0.46,0.56,0.65,0.75,0.89,1.0,1.13,1.18],
  [0.55,0.55,0.6,0.7,0.83,0.94,1.05,1.18,1.21],
  [0.58,0.58,0.64,0.77,0.88,1.01,1.12,1.24],
  [0.61,0.6,0.69,0.82,0.95,1.06,1.17,1.27],
  [0.64,0.58,0.7,0.76,0.87,1.0,1.12,1.23,1.3],
  [0.67,0.72,0.82,0.94,1.05,1.19,1.29,1.33],
  [0.70,0.73,0.77,0.89,1.0,1.11,1.25,1.36],
  [0.73,0.75,0.83,0.95,1.06,1.17,1.3,1.38],
  [0.76,0.72,0.78,0.88,1.0,1.12,1.23,1.36,1.39],
  [0.79,0.6,0.78,0.82,0.94,1.07,1.18,1.3,1.4],
  [0.82,0.67,0.79,0.89,1.01,1.13,1.24,1.35,1.42],
  [0.85,0.76,0.8,0.93,1.06,1.17,1.29,1.43],
  [0.88,0.81,0.88,1.0,1.12,1.23,1.36,1.45],
  [0.91,0.8,0.83,0.95,1.06,1.18,1.3,1.42,1.47],
  [0.94,0.7,0.84,0.89,1.0,1.12,1.25,1.36,1.49],
  [0.97,0.85,0.94,1.07,1.19,1.3,1.45],
  [1.00,0.81,0.87,1.0,1.11,1.24,1.4],
  [1.03,0.88,0.95,1.06,1.18,1.3,1.37],
  [1.06,0.85,0.89,1.01,1.12,1.24,1.38],
  [1.09,0.9,0.94,1.07,1.19,1.31],
  [1.12,0.85,0.93,1.0,1.13,1.24,1.36],
  [1.15,0.95,1.05,1.18,1.3,1.38],
  [1.18,1.0,1.12,1.23,1.36,1.4],
  [1.21,1.0,1.06,1.18,1.3,1.41],
  [1.24,1.04,1.13,1.24,1.36,1.42],
  [1.27,1.02,1.43],[1.31,0.99],
  [-0.785,-0.23,-0.17,-0.11,-0.05,0.01,0.07,0.13],
  [-0.725,-0.23,-0.17,-0.11,-0.05,0.01,0.07,0.13,0.19,0.25],
  [-0.665,-0.17,-0.11,-0.05,0.01,0.07,0.13,0.19,0.25],
  [-0.605,-0.17,-0.11,-0.05,0.01,0.07,0.13,0.19,0.25,0.31],
  [-0.545,-0.17,-0.11,-0.05,0.01,0.07,0.13,0.19,0.25,0.31],
  [-0.485,-0.17,-0.11,-0.05,0.01,0.07,0.13,0.19,0.25,0.31,0.37],
  [-0.425,-0.17,-0.11,-0.05,0.01,0.07,0.13,0.19,0.25,0.31,0.37],
  [-0.365,-0.17,-0.11,-0.05,0.01,0.07,0.13,0.19,0.25,0.31,0.37,0.43],
  [-0.305,-0.17,-0.11,-0.05,0.01,0.07,0.13,0.19,0.25,0.31,0.37,0.43],
  [-0.245,-0.17,-0.11,-0.05,0.01,0.07,0.13,0.19,0.25,0.31,0.37,0.43,0.49],
  [-0.185,-0.11,-0.05,0.01,0.07,0.13,0.19,0.25,0.31,0.37,0.43,0.49],
  [-0.125,-0.11,-0.05,0.01,0.07,0.13,0.19,0.25,0.31,0.37,0.43,0.49,0.55],
  [-0.065,-0.05,0.01,0.07,0.13,0.19,0.25,0.31,0.37,0.43,0.49,0.55],
  [-0.005,-0.05,0.01,0.07,0.13,0.19,0.25,0.31,0.37,0.43,0.49,0.55,0.61],
  [0.055,0.01,0.07,0.13,0.19,0.25,0.31,0.37,0.43,0.49,0.55,0.61],
  [0.115,0.07,0.13,0.19,0.25,0.31,0.37,0.43,0.49,0.55,0.61,0.67],
  [0.175,0.13,0.19,0.25,0.31,0.37,0.43,0.49,0.55,0.61,0.67,0.73],
  [0.235,0.19,0.25,0.31,0.37,0.43,0.49,0.55,0.61,0.67,0.73,0.79],
  [0.295,0.31,0.37,0.43,0.49,0.55,0.61,0.67,0.73,0.79,0.85],
  [0.355,0.37,0.43,0.49,0.55,0.61,0.67,0.73,0.79,0.85,0.91,0.97],
  [0.415,0.43,0.49,0.55,0.61,0.67,0.73,0.79,0.85,0.91,0.97,1.03],
  [0.475,0.55,0.61,0.67,0.73,0.79,0.85,0.91,0.97,1.03,1.09],
  [0.535,0.61,0.67,0.73,0.79,0.85,0.91,0.97,1.03,1.09,1.15],
  [0.595,0.67,0.73,0.79,0.91,1.03,1.09,1.15,1.21],
  [0.655,0.73,0.79,0.85,0.91,1.03,1.15,1.21,1.27],
  [0.715,0.79,0.85,0.91,0.97,1.03,1.15,1.21,1.27,1.33],
  [0.775,0.79,0.85,0.91,1.09,1.21,1.27,1.33,1.39],
  [0.835,0.85,0.91,0.97,1.03,1.09,1.15,1.27,1.33,1.39],
  [0.895,0.85,0.91,0.97,1.03,1.09,1.15,1.27,1.33,1.39,1.45],
  [0.955,0.91,0.97,1.03,1.15,1.27,1.33,1.39],
  [1.015,0.97,1.03,1.15,1.21,1.27,1.33],
  [1.075,0.97,1.03,1.15,1.21,1.27],
  [1.135,0.97,1.03,1.15,1.21,1.27,1.33],
  [1.195,1.03,1.09,1.15,1.21,1.27,1.33,1.39],
  [1.235,1.09,1.21,1.33]
];

// tick labels
const realXTicks = [-1.0, -0.5, 0.0, 0.5, 1.0];
const realYTicks = [-0.2, 0.0, 0.2, 0.4, 0.6, 0.8, 1.0, 1.2];
const gen1XTicks = [-1.0, -0.5, 0.0, 0.5, 1.0, 1.5];
const gen1YTicks = [0.0, 0.25, 0.5, 0.75, 1.0, 1.25, 1.5, 1.75];
const gen2XTicks = [-2.0, -1.5, -1.0, -0.5, 0.0, 0.5, 1.0];
const gen2YTicks = [-0.25, 0.0, 0.25, 0.5, 0.75, 1.0, 1.25];
const gen3XTicks = [-2.0, -1.5, -1.0, -0.5, 0.0, 0.5, 1.0];
const gen3YTicks = [-0.5, 0.0, 0.5, 1.0, 1.5];

const svg = d3.select("#chart");
const blue = "#1f77b4";
const leftBox = {x0: 55, x1: 282.7};
const rightBox = {x0: 349.7, x1: 577.4};
const axTop = 45, axBottom = 299, rowStep = 336;

function cloud(cols) {
    const pts = [];
    cols.forEach(c => { for (let i = 1; i < c.length; i++) pts.push([c[0], c[i]]); });
    return pts;
}

function padded(e) {
    const m = (e[1] - e[0]) * 0.05;
    return [e[0] - m, e[1] + m];
}

function panel(g, cols, box, title, xTicks, yTicks, xFmt, yFmt) {
    const pts = cloud(cols);
    const xd = padded(d3.extent(pts, d => d[0]));
    const yd = padded(d3.extent(pts, d => d[1]));
    const x = d3.scaleLinear().domain(xd).range([box.x0, box.x1]);
    const y = d3.scaleLinear().domain(yd).range([axBottom, axTop]);

    g.append("g").selectAll("circle").data(pts).join("circle")
        .attr("cx", d => x(d[0]))
        .attr("cy", d => y(d[1]))
        .attr("r", 3.4)
        .attr("fill", blue);

    g.append("rect")
        .attr("x", box.x0).attr("y", axTop)
        .attr("width", box.x1 - box.x0).attr("height", axBottom - axTop)
        .attr("fill", "none").attr("stroke", "#000").attr("stroke-width", 0.8);

    const inside = (t, d) => t.filter(v => v >= d[0] && v <= d[1]);
    const xa = g.append("g").attr("transform", "translate(0," + axBottom + ")")
        .call(d3.axisBottom(x).tickValues(inside(xTicks, xd)).tickFormat(d3.format(xFmt))
            .tickSize(3.5).tickPadding(3.5).tickSizeOuter(0));
    const ya = g.append("g").attr("transform", "translate(" + box.x0 + ",0)")
        .call(d3.axisLeft(y).tickValues(inside(yTicks, yd)).tickFormat(d3.format(yFmt))
            .tickSize(3.5).tickPadding(3.5).tickSizeOuter(0));
    [xa, ya].forEach(a => {
        a.select(".domain").remove();
        a.attr("font-size", 10);
        a.selectAll("line").attr("stroke", "#000").attr("stroke-width", 0.8);
        a.selectAll("text").attr("fill", "#000");
    });

    const mid = (box.x0 + box.x1) / 2;
    g.append("text").attr("x", mid).attr("y", axTop - 6)
        .attr("text-anchor", "middle").attr("font-size", 12).text(title);
    g.append("text").attr("x", mid).attr("y", axBottom + 27)
        .attr("text-anchor", "middle").attr("font-size", 10).text("X");
    // y label sits just left of the widest tick label
    const bb = ya.node().getBBox();
    g.append("text")
        .attr("transform", "translate(" + (box.x0 + bb.x - 6) + "," + ((axTop + axBottom) / 2) + ") rotate(-90)")
        .attr("text-anchor", "middle").attr("font-size", 10).text("Y");
}

const rows = [
    {real: real1, gen: gen1, gx: gen1XTicks, gy: gen1YTicks, gyFmt: ".2f"},
    {real: real2, gen: gen2, gx: gen2XTicks, gy: gen2YTicks, gyFmt: ".2f"},
    {real: real3, gen: gen3, gx: gen3XTicks, gy: gen3YTicks, gyFmt: ".1f"}
];

rows.forEach((r, i) => {
    const g = svg.append("g").attr("transform", "translate(0," + (i * rowStep) + ")");
    g.append("text").attr("x", 308).attr("y", 19.5)
        .attr("text-anchor", "middle").attr("font-size", 12)
        .text("Real & Generated Datapoints");
    panel(g, r.real, leftBox, "Real Data", realXTicks, realYTicks, ".1f", ".1f");
    panel(g, r.gen, rightBox, "Generated Data", r.gx, r.gy, ".1f", r.gyFmt);
});
</script>
</body>
</html>
